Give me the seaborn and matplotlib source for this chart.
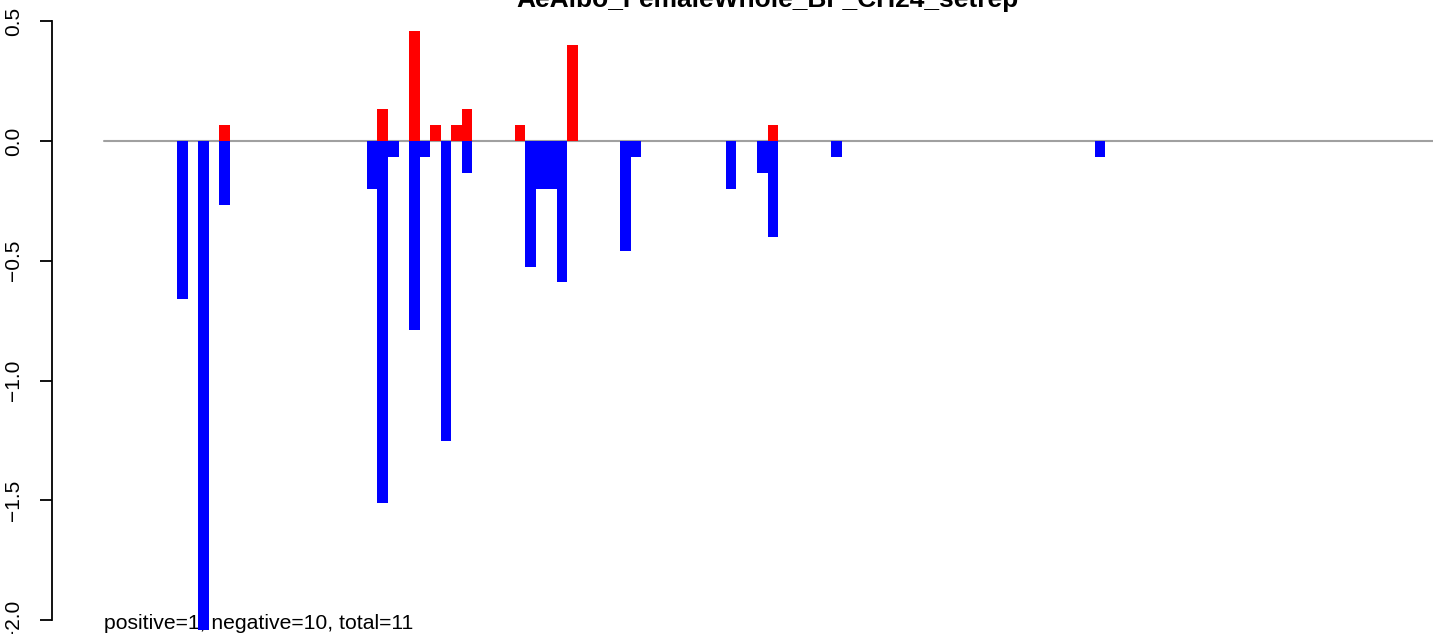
import numpy as np
import pandas as pd
import matplotlib
matplotlib.use("Agg")
import matplotlib.pyplot as plt
import seaborn as sns

# slot index of each bar (bars are one unit wide, no gap) and its value
pos_slots = [4, 19, 22, 24, 26, 27, 32, 37, 56]
pos_values = [0.067, 0.133, 0.46, 0.067, 0.067, 0.133, 0.067, 0.40, 0.067]

neg_slots = [0, 2, 4, 18, 19, 20, 22, 23, 25, 27, 33, 34, 35, 36,
             42, 43, 52, 55, 56, 62, 87]
neg_values = [-0.66, -2.04, -0.267, -0.20, -1.51, -0.067, -0.79, -0.067,
              -1.25, -0.133, -0.525, -0.20, -0.20, -0.59, -0.46, -0.067,
              -0.20, -0.133, -0.40, -0.067, -0.067]

title = "AeAlbo_FemaleWhole_BF_CH24_setrep"
summary = "positive=1, negative=10, total=11"
y_ticks = [-2.0, -1.5, -1.0, -0.5, 0.0, 0.5]

sns.set_style("white")
plt.rcParams['font.family'] = ['Liberation Sans', 'DejaVu Sans']
plt.rcParams['text.color'] = 'black'
plt.rcParams['ytick.color'] = 'black'
plt.rcParams['ytick.labelcolor'] = 'black'

W, H = 1433, 634
fig = plt.figure(figsize=(W / 100, H / 100), dpi=100)

# pixel geometry of the reference: slot 0 starts at x=177, 10.55 px per slot,
# y=0 at row 141, 239.6 px per unit
px_slot, x0 = 10.55, 177
px_unit, y0 = 239.6, 141
ax_left_px = 52
xlim = ((ax_left_px - x0) / px_slot, (W - x0) / px_slot)
ylim = (-2.1, 0.6)
top_px = y0 - ylim[1] * px_unit
bot_px = y0 - ylim[0] * px_unit
ax = fig.add_axes([ax_left_px / W, (H - bot_px) / H,
                   (W - ax_left_px) / W, (bot_px - top_px) / H])

pos_df = pd.DataFrame({"x": np.array(pos_slots) + 0.5, "y": pos_values})
neg_df = pd.DataFrame({"x": np.array(neg_slots) + 0.5, "y": neg_values})

ax.text(-6.92, -2.035, summary, fontsize=15.2, ha='left', va='baseline',
        color='black', zorder=1)

sns.barplot(data=pos_df, x="x", y="y", native_scale=True, width=1,
            color="#FF0000", saturation=1, linewidth=0, errorbar=None, ax=ax,
            zorder=2)
sns.barplot(data=neg_df, x="x", y="y", native_scale=True, width=1,
            color="#0000FF", saturation=1, linewidth=0, errorbar=None, ax=ax,
            zorder=2)

ax.axhline(0, xmin=(104 - ax_left_px) / (W - ax_left_px), xmax=1,
           color="#A0A0A0", lw=1.5, zorder=1.5)

ax.set_xlim(*xlim)
ax.set_ylim(*ylim)
ax.set_xlabel("")
ax.set_ylabel("")
ax.set_xticks([])
for s in ["top", "right", "bottom"]:
    ax.spines[s].set_visible(False)
ax.spines["left"].set_bounds(-2.0, 0.5)
ax.spines["left"].set_linewidth(1.3)
ax.spines["left"].set_color("black")
ax.set_yticks(y_ticks)
ax.set_yticklabels([f"{v:.1f}".replace("-", "\u2212") for v in y_ticks],
                   rotation=90, va="center")
ax.tick_params(axis="y", left=True, length=8.6, width=1.3, labelsize=15,
               pad=12, color="black", labelcolor="black")

fig.text(767 / W, (H - 6.5) / H, title, ha="center", va="baseline",
         fontsize=19, fontweight="bold", color="black")

fig.savefig("out.png", dpi=100)
